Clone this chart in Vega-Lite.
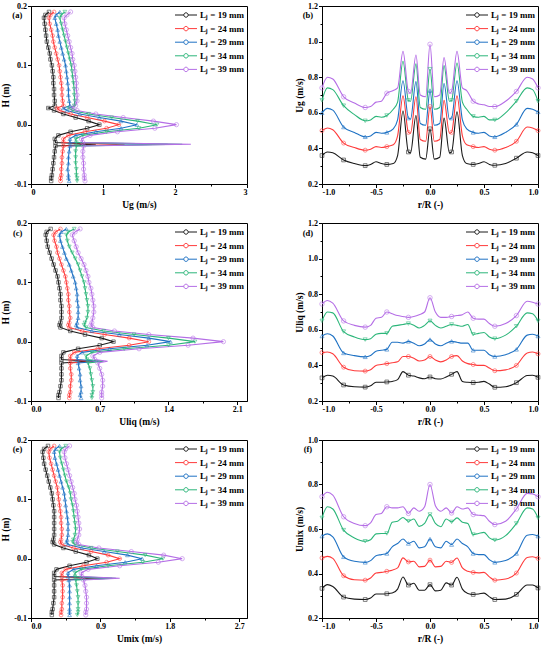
{
"$schema":"https://vega.github.io/schema/vega-lite/v6.json",
"padding":{"left":0,"top":1,"right":4,"bottom":2},
"config":{
 "font":"Liberation Serif",
 "view":{"stroke":"black","strokeWidth":1},
 "axis":{"domainColor":"black","tickColor":"black","labelColor":"black","titleColor":"black","labelFont":"Liberation Serif","titleFont":"Liberation Serif","labelFontWeight":"bold","titleFontWeight":"bold","labelFontSize":8,"titleFontSize":9.5,"grid":false,"tickSize":3.5,"labelPadding":1,"titlePadding":3,"labelOverlap":false,"labelBound":false,"tickCount":40},
 "legend":{"orient":"top-right","offset":3,"padding":0,"rowPadding":2.6,"labelFont":"Liberation Serif","labelFontWeight":"bold","labelFontSize":9,"labelColor":"black","symbolType":"M-2,0H-0.4M0.4,0H2M0.4,0A0.4,0.4 0 1,1 -0.4,0A0.4,0.4 0 1,1 0.4,0","symbolSize":121,"symbolStrokeWidth":1,"labelOffset":8},
 "point":{"filled":false,"strokeWidth":0.8}
},
"datasets":{
"a":[
{"L":"19","h":0.19,"u":0.25},{"L":"19","h":0.185,"u":0.2},{"L":"19","h":0.18,"u":0.18},{"L":"19","h":0.17,"u":0.19},{"L":"19","h":0.16,"u":0.2},{"L":"19","h":0.15,"u":0.21},{"L":"19","h":0.14,"u":0.22},{"L":"19","h":0.13,"u":0.24},{"L":"19","h":0.12,"u":0.26},{"L":"19","h":0.11,"u":0.27},{"L":"19","h":0.1,"u":0.29},{"L":"19","h":0.09,"u":0.3},{"L":"19","h":0.08,"u":0.31},{"L":"19","h":0.07,"u":0.31},{"L":"19","h":0.06,"u":0.32},{"L":"19","h":0.05,"u":0.32},{"L":"19","h":0.04,"u":0.33},{"L":"19","h":0.032,"u":0.33},{"L":"19","h":0.028,"u":0.24},{"L":"19","h":0.024,"u":0.32},{"L":"19","h":0.018,"u":0.45},{"L":"19","h":0.012,"u":0.62},{"L":"19","h":0.006,"u":0.8},{"L":"19","h":0,"u":0.95},{"L":"19","h":-0.006,"u":0.78},{"L":"19","h":-0.012,"u":0.55},{"L":"19","h":-0.018,"u":0.38},{"L":"19","h":-0.024,"u":0.33},{"L":"19","h":-0.03,"u":0.34},{"L":"19","h":-0.033,"u":0.9},{"L":"19","h":-0.036,"u":0.34},{"L":"19","h":-0.045,"u":0.33},{"L":"19","h":-0.055,"u":0.32},{"L":"19","h":-0.065,"u":0.31},{"L":"19","h":-0.075,"u":0.3},{"L":"19","h":-0.085,"u":0.29},{"L":"19","h":-0.09,"u":0.28},{"L":"19","h":-0.095,"u":0.28},
{"L":"24","h":0.19,"u":0.32},{"L":"24","h":0.185,"u":0.27},{"L":"24","h":0.18,"u":0.25},{"L":"24","h":0.17,"u":0.26},{"L":"24","h":0.16,"u":0.28},{"L":"24","h":0.15,"u":0.3},{"L":"24","h":0.14,"u":0.31},{"L":"24","h":0.13,"u":0.33},{"L":"24","h":0.12,"u":0.35},{"L":"24","h":0.11,"u":0.37},{"L":"24","h":0.1,"u":0.39},{"L":"24","h":0.09,"u":0.4},{"L":"24","h":0.08,"u":0.41},{"L":"24","h":0.07,"u":0.42},{"L":"24","h":0.06,"u":0.43},{"L":"24","h":0.05,"u":0.43},{"L":"24","h":0.04,"u":0.44},{"L":"24","h":0.032,"u":0.45},{"L":"24","h":0.028,"u":0.36},{"L":"24","h":0.024,"u":0.4},{"L":"24","h":0.018,"u":0.55},{"L":"24","h":0.012,"u":0.78},{"L":"24","h":0.006,"u":1.02},{"L":"24","h":0,"u":1.22},{"L":"24","h":-0.006,"u":1.05},{"L":"24","h":-0.012,"u":0.75},{"L":"24","h":-0.018,"u":0.52},{"L":"24","h":-0.024,"u":0.45},{"L":"24","h":-0.03,"u":0.45},{"L":"24","h":-0.033,"u":1.3},{"L":"24","h":-0.036,"u":0.45},{"L":"24","h":-0.045,"u":0.44},{"L":"24","h":-0.055,"u":0.43},{"L":"24","h":-0.065,"u":0.43},{"L":"24","h":-0.075,"u":0.42},{"L":"24","h":-0.085,"u":0.42},{"L":"24","h":-0.09,"u":0.41},{"L":"24","h":-0.095,"u":0.41},
{"L":"29","h":0.19,"u":0.4},{"L":"29","h":0.185,"u":0.35},{"L":"29","h":0.18,"u":0.33},{"L":"29","h":0.17,"u":0.35},{"L":"29","h":0.16,"u":0.37},{"L":"29","h":0.15,"u":0.38},{"L":"29","h":0.14,"u":0.4},{"L":"29","h":0.13,"u":0.42},{"L":"29","h":0.12,"u":0.44},{"L":"29","h":0.11,"u":0.46},{"L":"29","h":0.1,"u":0.48},{"L":"29","h":0.09,"u":0.49},{"L":"29","h":0.08,"u":0.5},{"L":"29","h":0.07,"u":0.51},{"L":"29","h":0.06,"u":0.52},{"L":"29","h":0.05,"u":0.52},{"L":"29","h":0.04,"u":0.53},{"L":"29","h":0.032,"u":0.54},{"L":"29","h":0.028,"u":0.45},{"L":"29","h":0.024,"u":0.5},{"L":"29","h":0.018,"u":0.68},{"L":"29","h":0.012,"u":0.95},{"L":"29","h":0.006,"u":1.25},{"L":"29","h":0,"u":1.47},{"L":"29","h":-0.006,"u":1.25},{"L":"29","h":-0.012,"u":0.9},{"L":"29","h":-0.018,"u":0.62},{"L":"29","h":-0.024,"u":0.54},{"L":"29","h":-0.03,"u":0.54},{"L":"29","h":-0.033,"u":1.9},{"L":"29","h":-0.036,"u":0.54},{"L":"29","h":-0.045,"u":0.53},{"L":"29","h":-0.055,"u":0.52},{"L":"29","h":-0.065,"u":0.52},{"L":"29","h":-0.075,"u":0.51},{"L":"29","h":-0.085,"u":0.52},{"L":"29","h":-0.09,"u":0.52},{"L":"29","h":-0.095,"u":0.53},
{"L":"34","h":0.19,"u":0.47},{"L":"34","h":0.185,"u":0.42},{"L":"34","h":0.18,"u":0.4},{"L":"34","h":0.17,"u":0.42},{"L":"34","h":0.16,"u":0.44},{"L":"34","h":0.15,"u":0.46},{"L":"34","h":0.14,"u":0.48},{"L":"34","h":0.13,"u":0.5},{"L":"34","h":0.12,"u":0.52},{"L":"34","h":0.11,"u":0.54},{"L":"34","h":0.1,"u":0.56},{"L":"34","h":0.09,"u":0.57},{"L":"34","h":0.08,"u":0.58},{"L":"34","h":0.07,"u":0.59},{"L":"34","h":0.06,"u":0.6},{"L":"34","h":0.05,"u":0.6},{"L":"34","h":0.04,"u":0.61},{"L":"34","h":0.032,"u":0.6},{"L":"34","h":0.028,"u":0.52},{"L":"34","h":0.024,"u":0.58},{"L":"34","h":0.018,"u":0.8},{"L":"34","h":0.012,"u":1.12},{"L":"34","h":0.006,"u":1.48},{"L":"34","h":0,"u":1.75},{"L":"34","h":-0.006,"u":1.5},{"L":"34","h":-0.012,"u":1.05},{"L":"34","h":-0.018,"u":0.72},{"L":"34","h":-0.024,"u":0.62},{"L":"34","h":-0.03,"u":0.63},{"L":"34","h":-0.033,"u":2.1},{"L":"34","h":-0.036,"u":0.63},{"L":"34","h":-0.045,"u":0.62},{"L":"34","h":-0.055,"u":0.62},{"L":"34","h":-0.065,"u":0.62},{"L":"34","h":-0.075,"u":0.63},{"L":"34","h":-0.085,"u":0.63},{"L":"34","h":-0.09,"u":0.64},{"L":"34","h":-0.095,"u":0.64},
{"L":"39","h":0.19,"u":0.55},{"L":"39","h":0.185,"u":0.5},{"L":"39","h":0.18,"u":0.46},{"L":"39","h":0.17,"u":0.47},{"L":"39","h":0.16,"u":0.49},{"L":"39","h":0.15,"u":0.51},{"L":"39","h":0.14,"u":0.53},{"L":"39","h":0.13,"u":0.55},{"L":"39","h":0.12,"u":0.57},{"L":"39","h":0.11,"u":0.58},{"L":"39","h":0.1,"u":0.6},{"L":"39","h":0.09,"u":0.61},{"L":"39","h":0.08,"u":0.62},{"L":"39","h":0.07,"u":0.63},{"L":"39","h":0.06,"u":0.63},{"L":"39","h":0.05,"u":0.64},{"L":"39","h":0.04,"u":0.64},{"L":"39","h":0.032,"u":0.62},{"L":"39","h":0.028,"u":0.56},{"L":"39","h":0.024,"u":0.64},{"L":"39","h":0.018,"u":0.9},{"L":"39","h":0.012,"u":1.28},{"L":"39","h":0.006,"u":1.7},{"L":"39","h":0,"u":2.02},{"L":"39","h":-0.006,"u":1.72},{"L":"39","h":-0.012,"u":1.2},{"L":"39","h":-0.018,"u":0.82},{"L":"39","h":-0.024,"u":0.7},{"L":"39","h":-0.03,"u":0.72},{"L":"39","h":-0.033,"u":2.22},{"L":"39","h":-0.036,"u":0.73},{"L":"39","h":-0.045,"u":0.72},{"L":"39","h":-0.055,"u":0.72},{"L":"39","h":-0.065,"u":0.73},{"L":"39","h":-0.075,"u":0.73},{"L":"39","h":-0.085,"u":0.74},{"L":"39","h":-0.09,"u":0.74},{"L":"39","h":-0.095,"u":0.75}
],
"c":[
{"L":"19","h":0.19,"u":0.2},{"L":"19","h":0.185,"u":0.16},{"L":"19","h":0.18,"u":0.15},{"L":"19","h":0.17,"u":0.16},{"L":"19","h":0.16,"u":0.17},{"L":"19","h":0.15,"u":0.19},{"L":"19","h":0.14,"u":0.21},{"L":"19","h":0.13,"u":0.23},{"L":"19","h":0.12,"u":0.25},{"L":"19","h":0.11,"u":0.27},{"L":"19","h":0.1,"u":0.28},{"L":"19","h":0.09,"u":0.29},{"L":"19","h":0.08,"u":0.3},{"L":"19","h":0.07,"u":0.3},{"L":"19","h":0.06,"u":0.31},{"L":"19","h":0.05,"u":0.31},{"L":"19","h":0.04,"u":0.31},{"L":"19","h":0.032,"u":0.3},{"L":"19","h":0.028,"u":0.29},{"L":"19","h":0.024,"u":0.3},{"L":"19","h":0.018,"u":0.4},{"L":"19","h":0.012,"u":0.55},{"L":"19","h":0.006,"u":0.72},{"L":"19","h":0,"u":0.84},{"L":"19","h":-0.006,"u":0.7},{"L":"19","h":-0.012,"u":0.48},{"L":"19","h":-0.018,"u":0.33},{"L":"19","h":-0.024,"u":0.31},{"L":"19","h":-0.03,"u":0.31},{"L":"19","h":-0.033,"u":0.6},{"L":"19","h":-0.036,"u":0.31},{"L":"19","h":-0.045,"u":0.31},{"L":"19","h":-0.055,"u":0.31},{"L":"19","h":-0.065,"u":0.31},{"L":"19","h":-0.075,"u":0.3},{"L":"19","h":-0.085,"u":0.29},{"L":"19","h":-0.09,"u":0.28},{"L":"19","h":-0.095,"u":0.28},
{"L":"24","h":0.19,"u":0.3},{"L":"24","h":0.185,"u":0.25},{"L":"24","h":0.18,"u":0.23},{"L":"24","h":0.17,"u":0.24},{"L":"24","h":0.16,"u":0.26},{"L":"24","h":0.15,"u":0.27},{"L":"24","h":0.14,"u":0.29},{"L":"24","h":0.13,"u":0.31},{"L":"24","h":0.12,"u":0.33},{"L":"24","h":0.11,"u":0.35},{"L":"24","h":0.1,"u":0.36},{"L":"24","h":0.09,"u":0.37},{"L":"24","h":0.08,"u":0.38},{"L":"24","h":0.07,"u":0.38},{"L":"24","h":0.06,"u":0.39},{"L":"24","h":0.05,"u":0.39},{"L":"24","h":0.04,"u":0.4},{"L":"24","h":0.032,"u":0.39},{"L":"24","h":0.028,"u":0.38},{"L":"24","h":0.024,"u":0.39},{"L":"24","h":0.018,"u":0.52},{"L":"24","h":0.012,"u":0.75},{"L":"24","h":0.006,"u":1.0},{"L":"24","h":0,"u":1.2},{"L":"24","h":-0.006,"u":1.0},{"L":"24","h":-0.012,"u":0.68},{"L":"24","h":-0.018,"u":0.44},{"L":"24","h":-0.024,"u":0.4},{"L":"24","h":-0.03,"u":0.4},{"L":"24","h":-0.033,"u":0.65},{"L":"24","h":-0.036,"u":0.4},{"L":"24","h":-0.045,"u":0.4},{"L":"24","h":-0.055,"u":0.41},{"L":"24","h":-0.065,"u":0.41},{"L":"24","h":-0.075,"u":0.4},{"L":"24","h":-0.085,"u":0.4},{"L":"24","h":-0.09,"u":0.39},{"L":"24","h":-0.095,"u":0.39},
{"L":"29","h":0.19,"u":0.36},{"L":"29","h":0.185,"u":0.31},{"L":"29","h":0.18,"u":0.29},{"L":"29","h":0.17,"u":0.3},{"L":"29","h":0.16,"u":0.32},{"L":"29","h":0.15,"u":0.34},{"L":"29","h":0.14,"u":0.36},{"L":"29","h":0.13,"u":0.39},{"L":"29","h":0.12,"u":0.41},{"L":"29","h":0.11,"u":0.43},{"L":"29","h":0.1,"u":0.45},{"L":"29","h":0.09,"u":0.46},{"L":"29","h":0.08,"u":0.47},{"L":"29","h":0.07,"u":0.47},{"L":"29","h":0.06,"u":0.48},{"L":"29","h":0.05,"u":0.48},{"L":"29","h":0.04,"u":0.48},{"L":"29","h":0.032,"u":0.47},{"L":"29","h":0.028,"u":0.46},{"L":"29","h":0.024,"u":0.47},{"L":"29","h":0.018,"u":0.62},{"L":"29","h":0.012,"u":0.9},{"L":"29","h":0.006,"u":1.2},{"L":"29","h":0,"u":1.42},{"L":"29","h":-0.006,"u":1.18},{"L":"29","h":-0.012,"u":0.8},{"L":"29","h":-0.018,"u":0.52},{"L":"29","h":-0.024,"u":0.47},{"L":"29","h":-0.03,"u":0.47},{"L":"29","h":-0.033,"u":0.7},{"L":"29","h":-0.036,"u":0.48},{"L":"29","h":-0.045,"u":0.49},{"L":"29","h":-0.055,"u":0.5},{"L":"29","h":-0.065,"u":0.5},{"L":"29","h":-0.075,"u":0.51},{"L":"29","h":-0.085,"u":0.51},{"L":"29","h":-0.09,"u":0.5},{"L":"29","h":-0.095,"u":0.51},
{"L":"34","h":0.19,"u":0.44},{"L":"34","h":0.185,"u":0.38},{"L":"34","h":0.18,"u":0.36},{"L":"34","h":0.17,"u":0.37},{"L":"34","h":0.16,"u":0.39},{"L":"34","h":0.15,"u":0.42},{"L":"34","h":0.14,"u":0.45},{"L":"34","h":0.13,"u":0.48},{"L":"34","h":0.12,"u":0.5},{"L":"34","h":0.11,"u":0.52},{"L":"34","h":0.1,"u":0.54},{"L":"34","h":0.09,"u":0.55},{"L":"34","h":0.08,"u":0.56},{"L":"34","h":0.07,"u":0.57},{"L":"34","h":0.06,"u":0.58},{"L":"34","h":0.05,"u":0.58},{"L":"34","h":0.04,"u":0.57},{"L":"34","h":0.032,"u":0.55},{"L":"34","h":0.028,"u":0.54},{"L":"34","h":0.024,"u":0.56},{"L":"34","h":0.018,"u":0.74},{"L":"34","h":0.012,"u":1.05},{"L":"34","h":0.006,"u":1.4},{"L":"34","h":0,"u":1.67},{"L":"34","h":-0.006,"u":1.4},{"L":"34","h":-0.012,"u":0.95},{"L":"34","h":-0.018,"u":0.62},{"L":"34","h":-0.024,"u":0.56},{"L":"34","h":-0.03,"u":0.57},{"L":"34","h":-0.033,"u":0.74},{"L":"34","h":-0.036,"u":0.58},{"L":"34","h":-0.045,"u":0.6},{"L":"34","h":-0.055,"u":0.61},{"L":"34","h":-0.065,"u":0.62},{"L":"34","h":-0.075,"u":0.63},{"L":"34","h":-0.085,"u":0.63},{"L":"34","h":-0.09,"u":0.62},{"L":"34","h":-0.095,"u":0.62},
{"L":"39","h":0.19,"u":0.5},{"L":"39","h":0.185,"u":0.45},{"L":"39","h":0.18,"u":0.42},{"L":"39","h":0.17,"u":0.44},{"L":"39","h":0.16,"u":0.46},{"L":"39","h":0.15,"u":0.48},{"L":"39","h":0.14,"u":0.51},{"L":"39","h":0.13,"u":0.54},{"L":"39","h":0.12,"u":0.56},{"L":"39","h":0.11,"u":0.58},{"L":"39","h":0.1,"u":0.59},{"L":"39","h":0.09,"u":0.61},{"L":"39","h":0.08,"u":0.62},{"L":"39","h":0.07,"u":0.63},{"L":"39","h":0.06,"u":0.64},{"L":"39","h":0.05,"u":0.64},{"L":"39","h":0.04,"u":0.63},{"L":"39","h":0.032,"u":0.62},{"L":"39","h":0.028,"u":0.61},{"L":"39","h":0.024,"u":0.63},{"L":"39","h":0.018,"u":0.85},{"L":"39","h":0.012,"u":1.2},{"L":"39","h":0.006,"u":1.65},{"L":"39","h":0,"u":1.96},{"L":"39","h":-0.006,"u":1.6},{"L":"39","h":-0.012,"u":1.1},{"L":"39","h":-0.018,"u":0.7},{"L":"39","h":-0.024,"u":0.63},{"L":"39","h":-0.03,"u":0.65},{"L":"39","h":-0.033,"u":0.78},{"L":"39","h":-0.036,"u":0.68},{"L":"39","h":-0.045,"u":0.7},{"L":"39","h":-0.055,"u":0.72},{"L":"39","h":-0.065,"u":0.73},{"L":"39","h":-0.075,"u":0.73},{"L":"39","h":-0.085,"u":0.72},{"L":"39","h":-0.09,"u":0.72},{"L":"39","h":-0.095,"u":0.72}
],
"e":[
{"L":"19","h":0.19,"u":0.22},{"L":"19","h":0.185,"u":0.17},{"L":"19","h":0.18,"u":0.15},{"L":"19","h":0.17,"u":0.16},{"L":"19","h":0.16,"u":0.17},{"L":"19","h":0.15,"u":0.19},{"L":"19","h":0.14,"u":0.21},{"L":"19","h":0.13,"u":0.23},{"L":"19","h":0.12,"u":0.25},{"L":"19","h":0.11,"u":0.27},{"L":"19","h":0.1,"u":0.28},{"L":"19","h":0.09,"u":0.29},{"L":"19","h":0.08,"u":0.3},{"L":"19","h":0.07,"u":0.3},{"L":"19","h":0.06,"u":0.3},{"L":"19","h":0.05,"u":0.3},{"L":"19","h":0.04,"u":0.3},{"L":"19","h":0.032,"u":0.29},{"L":"19","h":0.028,"u":0.28},{"L":"19","h":0.024,"u":0.3},{"L":"19","h":0.018,"u":0.42},{"L":"19","h":0.012,"u":0.58},{"L":"19","h":0.006,"u":0.75},{"L":"19","h":0,"u":0.86},{"L":"19","h":-0.006,"u":0.72},{"L":"19","h":-0.012,"u":0.5},{"L":"19","h":-0.018,"u":0.33},{"L":"19","h":-0.024,"u":0.3},{"L":"19","h":-0.03,"u":0.3},{"L":"19","h":-0.033,"u":0.9},{"L":"19","h":-0.036,"u":0.3},{"L":"19","h":-0.045,"u":0.3},{"L":"19","h":-0.055,"u":0.3},{"L":"19","h":-0.065,"u":0.3},{"L":"19","h":-0.075,"u":0.29},{"L":"19","h":-0.085,"u":0.28},{"L":"19","h":-0.09,"u":0.27},{"L":"19","h":-0.095,"u":0.27},
{"L":"24","h":0.19,"u":0.3},{"L":"24","h":0.185,"u":0.25},{"L":"24","h":0.18,"u":0.23},{"L":"24","h":0.17,"u":0.24},{"L":"24","h":0.16,"u":0.26},{"L":"24","h":0.15,"u":0.28},{"L":"24","h":0.14,"u":0.3},{"L":"24","h":0.13,"u":0.32},{"L":"24","h":0.12,"u":0.34},{"L":"24","h":0.11,"u":0.35},{"L":"24","h":0.1,"u":0.36},{"L":"24","h":0.09,"u":0.37},{"L":"24","h":0.08,"u":0.38},{"L":"24","h":0.07,"u":0.39},{"L":"24","h":0.06,"u":0.39},{"L":"24","h":0.05,"u":0.4},{"L":"24","h":0.04,"u":0.4},{"L":"24","h":0.032,"u":0.39},{"L":"24","h":0.028,"u":0.38},{"L":"24","h":0.024,"u":0.4},{"L":"24","h":0.018,"u":0.55},{"L":"24","h":0.012,"u":0.78},{"L":"24","h":0.006,"u":1.0},{"L":"24","h":0,"u":1.15},{"L":"24","h":-0.006,"u":0.98},{"L":"24","h":-0.012,"u":0.68},{"L":"24","h":-0.018,"u":0.45},{"L":"24","h":-0.024,"u":0.4},{"L":"24","h":-0.03,"u":0.4},{"L":"24","h":-0.033,"u":1.0},{"L":"24","h":-0.036,"u":0.4},{"L":"24","h":-0.045,"u":0.41},{"L":"24","h":-0.055,"u":0.41},{"L":"24","h":-0.065,"u":0.41},{"L":"24","h":-0.075,"u":0.4},{"L":"24","h":-0.085,"u":0.4},{"L":"24","h":-0.09,"u":0.39},{"L":"24","h":-0.095,"u":0.39},
{"L":"29","h":0.19,"u":0.37},{"L":"29","h":0.185,"u":0.32},{"L":"29","h":0.18,"u":0.3},{"L":"29","h":0.17,"u":0.31},{"L":"29","h":0.16,"u":0.33},{"L":"29","h":0.15,"u":0.35},{"L":"29","h":0.14,"u":0.37},{"L":"29","h":0.13,"u":0.39},{"L":"29","h":0.12,"u":0.41},{"L":"29","h":0.11,"u":0.43},{"L":"29","h":0.1,"u":0.44},{"L":"29","h":0.09,"u":0.45},{"L":"29","h":0.08,"u":0.46},{"L":"29","h":0.07,"u":0.47},{"L":"29","h":0.06,"u":0.48},{"L":"29","h":0.05,"u":0.48},{"L":"29","h":0.04,"u":0.48},{"L":"29","h":0.032,"u":0.47},{"L":"29","h":0.028,"u":0.46},{"L":"29","h":0.024,"u":0.48},{"L":"29","h":0.018,"u":0.66},{"L":"29","h":0.012,"u":0.95},{"L":"29","h":0.006,"u":1.25},{"L":"29","h":0,"u":1.44},{"L":"29","h":-0.006,"u":1.22},{"L":"29","h":-0.012,"u":0.85},{"L":"29","h":-0.018,"u":0.55},{"L":"29","h":-0.024,"u":0.48},{"L":"29","h":-0.03,"u":0.48},{"L":"29","h":-0.033,"u":1.05},{"L":"29","h":-0.036,"u":0.49},{"L":"29","h":-0.045,"u":0.5},{"L":"29","h":-0.055,"u":0.5},{"L":"29","h":-0.065,"u":0.5},{"L":"29","h":-0.075,"u":0.5},{"L":"29","h":-0.085,"u":0.5},{"L":"29","h":-0.09,"u":0.5},{"L":"29","h":-0.095,"u":0.5},
{"L":"34","h":0.19,"u":0.45},{"L":"34","h":0.185,"u":0.39},{"L":"34","h":0.18,"u":0.37},{"L":"34","h":0.17,"u":0.38},{"L":"34","h":0.16,"u":0.4},{"L":"34","h":0.15,"u":0.42},{"L":"34","h":0.14,"u":0.44},{"L":"34","h":0.13,"u":0.46},{"L":"34","h":0.12,"u":0.49},{"L":"34","h":0.11,"u":0.51},{"L":"34","h":0.1,"u":0.52},{"L":"34","h":0.09,"u":0.54},{"L":"34","h":0.08,"u":0.55},{"L":"34","h":0.07,"u":0.56},{"L":"34","h":0.06,"u":0.57},{"L":"34","h":0.05,"u":0.58},{"L":"34","h":0.04,"u":0.57},{"L":"34","h":0.032,"u":0.55},{"L":"34","h":0.028,"u":0.54},{"L":"34","h":0.024,"u":0.57},{"L":"34","h":0.018,"u":0.78},{"L":"34","h":0.012,"u":1.12},{"L":"34","h":0.006,"u":1.48},{"L":"34","h":0,"u":1.71},{"L":"34","h":-0.006,"u":1.45},{"L":"34","h":-0.012,"u":1.0},{"L":"34","h":-0.018,"u":0.65},{"L":"34","h":-0.024,"u":0.57},{"L":"34","h":-0.03,"u":0.57},{"L":"34","h":-0.033,"u":1.1},{"L":"34","h":-0.036,"u":0.58},{"L":"34","h":-0.045,"u":0.59},{"L":"34","h":-0.055,"u":0.6},{"L":"34","h":-0.065,"u":0.61},{"L":"34","h":-0.075,"u":0.61},{"L":"34","h":-0.085,"u":0.61},{"L":"34","h":-0.09,"u":0.61},{"L":"34","h":-0.095,"u":0.6},
{"L":"39","h":0.19,"u":0.5},{"L":"39","h":0.185,"u":0.45},{"L":"39","h":0.18,"u":0.43},{"L":"39","h":0.17,"u":0.44},{"L":"39","h":0.16,"u":0.46},{"L":"39","h":0.15,"u":0.48},{"L":"39","h":0.14,"u":0.5},{"L":"39","h":0.13,"u":0.52},{"L":"39","h":0.12,"u":0.54},{"L":"39","h":0.11,"u":0.56},{"L":"39","h":0.1,"u":0.57},{"L":"39","h":0.09,"u":0.59},{"L":"39","h":0.08,"u":0.6},{"L":"39","h":0.07,"u":0.61},{"L":"39","h":0.06,"u":0.62},{"L":"39","h":0.05,"u":0.63},{"L":"39","h":0.04,"u":0.62},{"L":"39","h":0.032,"u":0.6},{"L":"39","h":0.028,"u":0.59},{"L":"39","h":0.024,"u":0.62},{"L":"39","h":0.018,"u":0.88},{"L":"39","h":0.012,"u":1.3},{"L":"39","h":0.006,"u":1.72},{"L":"39","h":0,"u":1.96},{"L":"39","h":-0.006,"u":1.65},{"L":"39","h":-0.012,"u":1.15},{"L":"39","h":-0.018,"u":0.74},{"L":"39","h":-0.024,"u":0.65},{"L":"39","h":-0.03,"u":0.66},{"L":"39","h":-0.033,"u":1.15},{"L":"39","h":-0.036,"u":0.68},{"L":"39","h":-0.045,"u":0.7},{"L":"39","h":-0.055,"u":0.71},{"L":"39","h":-0.065,"u":0.72},{"L":"39","h":-0.075,"u":0.72},{"L":"39","h":-0.085,"u":0.72},{"L":"39","h":-0.09,"u":0.71},{"L":"39","h":-0.095,"u":0.71}
],
"b":[
{"L":"19","r":-1,"u":0.36},{"L":"19","r":-0.95,"u":0.38},{"L":"19","r":-0.9,"u":0.375},{"L":"19","r":-0.8,"u":0.335},{"L":"19","r":-0.7,"u":0.315},{"L":"19","r":-0.6,"u":0.303},{"L":"19","r":-0.55,"u":0.31},{"L":"19","r":-0.5,"u":0.325},{"L":"19","r":-0.45,"u":0.315},{"L":"19","r":-0.4,"u":0.31},{"L":"19","r":-0.34,"u":0.315},{"L":"19","r":-0.3,"u":0.36},{"L":"19","r":-0.25,"u":0.61},{"L":"19","r":-0.2,"u":0.38},{"L":"19","r":-0.18,"u":0.375},{"L":"19","r":-0.13,"u":0.585},{"L":"19","r":-0.09,"u":0.35},{"L":"19","r":-0.04,"u":0.34},{"L":"19","r":0,"u":0.51},{"L":"19","r":0.04,"u":0.34},{"L":"19","r":0.09,"u":0.35},{"L":"19","r":0.13,"u":0.57},{"L":"19","r":0.18,"u":0.375},{"L":"19","r":0.2,"u":0.38},{"L":"19","r":0.25,"u":0.605},{"L":"19","r":0.3,"u":0.36},{"L":"19","r":0.34,"u":0.315},{"L":"19","r":0.4,"u":0.31},{"L":"19","r":0.45,"u":0.315},{"L":"19","r":0.5,"u":0.325},{"L":"19","r":0.55,"u":0.31},{"L":"19","r":0.6,"u":0.305},{"L":"19","r":0.7,"u":0.315},{"L":"19","r":0.8,"u":0.345},{"L":"19","r":0.9,"u":0.38},{"L":"19","r":0.95,"u":0.375},{"L":"19","r":1,"u":0.36},
{"L":"24","r":-1,"u":0.5},{"L":"24","r":-0.95,"u":0.515},{"L":"24","r":-0.9,"u":0.505},{"L":"24","r":-0.8,"u":0.43},{"L":"24","r":-0.7,"u":0.405},{"L":"24","r":-0.6,"u":0.39},{"L":"24","r":-0.55,"u":0.395},{"L":"24","r":-0.5,"u":0.41},{"L":"24","r":-0.45,"u":0.405},{"L":"24","r":-0.4,"u":0.41},{"L":"24","r":-0.34,"u":0.42},{"L":"24","r":-0.3,"u":0.47},{"L":"24","r":-0.25,"u":0.695},{"L":"24","r":-0.2,"u":0.49},{"L":"24","r":-0.18,"u":0.485},{"L":"24","r":-0.13,"u":0.69},{"L":"24","r":-0.09,"u":0.45},{"L":"24","r":-0.04,"u":0.44},{"L":"24","r":0,"u":0.635},{"L":"24","r":0.04,"u":0.44},{"L":"24","r":0.09,"u":0.45},{"L":"24","r":0.13,"u":0.67},{"L":"24","r":0.18,"u":0.485},{"L":"24","r":0.2,"u":0.49},{"L":"24","r":0.25,"u":0.695},{"L":"24","r":0.3,"u":0.47},{"L":"24","r":0.34,"u":0.42},{"L":"24","r":0.4,"u":0.41},{"L":"24","r":0.45,"u":0.405},{"L":"24","r":0.5,"u":0.41},{"L":"24","r":0.55,"u":0.395},{"L":"24","r":0.6,"u":0.39},{"L":"24","r":0.7,"u":0.405},{"L":"24","r":0.8,"u":0.44},{"L":"24","r":0.9,"u":0.52},{"L":"24","r":0.95,"u":0.515},{"L":"24","r":1,"u":0.5},
{"L":"29","r":-1,"u":0.6},{"L":"29","r":-0.95,"u":0.625},{"L":"29","r":-0.9,"u":0.615},{"L":"29","r":-0.8,"u":0.52},{"L":"29","r":-0.7,"u":0.49},{"L":"29","r":-0.6,"u":0.465},{"L":"29","r":-0.55,"u":0.47},{"L":"29","r":-0.5,"u":0.49},{"L":"29","r":-0.45,"u":0.485},{"L":"29","r":-0.4,"u":0.49},{"L":"29","r":-0.34,"u":0.51},{"L":"29","r":-0.3,"u":0.56},{"L":"29","r":-0.25,"u":0.78},{"L":"29","r":-0.2,"u":0.57},{"L":"29","r":-0.18,"u":0.565},{"L":"29","r":-0.13,"u":0.775},{"L":"29","r":-0.09,"u":0.54},{"L":"29","r":-0.04,"u":0.53},{"L":"29","r":0,"u":0.725},{"L":"29","r":0.04,"u":0.53},{"L":"29","r":0.09,"u":0.54},{"L":"29","r":0.13,"u":0.765},{"L":"29","r":0.18,"u":0.565},{"L":"29","r":0.2,"u":0.57},{"L":"29","r":0.25,"u":0.78},{"L":"29","r":0.3,"u":0.56},{"L":"29","r":0.34,"u":0.51},{"L":"29","r":0.4,"u":0.49},{"L":"29","r":0.45,"u":0.485},{"L":"29","r":0.5,"u":0.49},{"L":"29","r":0.55,"u":0.47},{"L":"29","r":0.6,"u":0.465},{"L":"29","r":0.7,"u":0.49},{"L":"29","r":0.8,"u":0.535},{"L":"29","r":0.9,"u":0.625},{"L":"29","r":0.95,"u":0.62},{"L":"29","r":1,"u":0.605},
{"L":"34","r":-1,"u":0.67},{"L":"34","r":-0.95,"u":0.74},{"L":"34","r":-0.9,"u":0.73},{"L":"34","r":-0.8,"u":0.64},{"L":"34","r":-0.7,"u":0.59},{"L":"34","r":-0.6,"u":0.555},{"L":"34","r":-0.55,"u":0.56},{"L":"34","r":-0.5,"u":0.58},{"L":"34","r":-0.45,"u":0.575},{"L":"34","r":-0.4,"u":0.585},{"L":"34","r":-0.34,"u":0.62},{"L":"34","r":-0.3,"u":0.66},{"L":"34","r":-0.25,"u":0.89},{"L":"34","r":-0.2,"u":0.67},{"L":"34","r":-0.18,"u":0.665},{"L":"34","r":-0.13,"u":0.875},{"L":"34","r":-0.09,"u":0.63},{"L":"34","r":-0.04,"u":0.62},{"L":"34","r":0,"u":0.845},{"L":"34","r":0.04,"u":0.62},{"L":"34","r":0.09,"u":0.63},{"L":"34","r":0.13,"u":0.865},{"L":"34","r":0.18,"u":0.665},{"L":"34","r":0.2,"u":0.67},{"L":"34","r":0.25,"u":0.88},{"L":"34","r":0.3,"u":0.66},{"L":"34","r":0.34,"u":0.62},{"L":"34","r":0.4,"u":0.58},{"L":"34","r":0.45,"u":0.575},{"L":"34","r":0.5,"u":0.58},{"L":"34","r":0.55,"u":0.56},{"L":"34","r":0.6,"u":0.56},{"L":"34","r":0.7,"u":0.6},{"L":"34","r":0.8,"u":0.665},{"L":"34","r":0.9,"u":0.74},{"L":"34","r":0.95,"u":0.73},{"L":"34","r":1,"u":0.665},
{"L":"39","r":-1,"u":0.74},{"L":"39","r":-0.95,"u":0.8},{"L":"39","r":-0.9,"u":0.79},{"L":"39","r":-0.8,"u":0.69},{"L":"39","r":-0.7,"u":0.655},{"L":"39","r":-0.6,"u":0.63},{"L":"39","r":-0.55,"u":0.635},{"L":"39","r":-0.5,"u":0.66},{"L":"39","r":-0.45,"u":0.665},{"L":"39","r":-0.4,"u":0.71},{"L":"39","r":-0.34,"u":0.725},{"L":"39","r":-0.3,"u":0.74},{"L":"39","r":-0.25,"u":0.945},{"L":"39","r":-0.2,"u":0.72},{"L":"39","r":-0.18,"u":0.71},{"L":"39","r":-0.13,"u":0.925},{"L":"39","r":-0.09,"u":0.7},{"L":"39","r":-0.04,"u":0.69},{"L":"39","r":0,"u":0.985},{"L":"39","r":0.04,"u":0.69},{"L":"39","r":0.09,"u":0.7},{"L":"39","r":0.13,"u":0.91},{"L":"39","r":0.18,"u":0.71},{"L":"39","r":0.2,"u":0.72},{"L":"39","r":0.25,"u":0.945},{"L":"39","r":0.3,"u":0.74},{"L":"39","r":0.34,"u":0.725},{"L":"39","r":0.4,"u":0.665},{"L":"39","r":0.45,"u":0.65},{"L":"39","r":0.5,"u":0.645},{"L":"39","r":0.55,"u":0.635},{"L":"39","r":0.6,"u":0.635},{"L":"39","r":0.7,"u":0.665},{"L":"39","r":0.8,"u":0.72},{"L":"39","r":0.9,"u":0.8},{"L":"39","r":0.95,"u":0.79},{"L":"39","r":1,"u":0.74}
],
"d":[
{"L":"19","r":-1,"u":0.33},{"L":"19","r":-0.95,"u":0.345},{"L":"19","r":-0.9,"u":0.34},{"L":"19","r":-0.8,"u":0.29},{"L":"19","r":-0.7,"u":0.28},{"L":"19","r":-0.6,"u":0.278},{"L":"19","r":-0.55,"u":0.285},{"L":"19","r":-0.5,"u":0.305},{"L":"19","r":-0.45,"u":0.305},{"L":"19","r":-0.4,"u":0.307},{"L":"19","r":-0.35,"u":0.31},{"L":"19","r":-0.3,"u":0.32},{"L":"19","r":-0.25,"u":0.365},{"L":"19","r":-0.2,"u":0.345},{"L":"19","r":-0.15,"u":0.34},{"L":"19","r":-0.1,"u":0.33},{"L":"19","r":-0.05,"u":0.325},{"L":"19","r":0,"u":0.335},{"L":"19","r":0.05,"u":0.325},{"L":"19","r":0.1,"u":0.324},{"L":"19","r":0.15,"u":0.335},{"L":"19","r":0.2,"u":0.35},{"L":"19","r":0.25,"u":0.365},{"L":"19","r":0.3,"u":0.31},{"L":"19","r":0.35,"u":0.305},{"L":"19","r":0.4,"u":0.303},{"L":"19","r":0.45,"u":0.305},{"L":"19","r":0.5,"u":0.31},{"L":"19","r":0.55,"u":0.295},{"L":"19","r":0.6,"u":0.277},{"L":"19","r":0.7,"u":0.28},{"L":"19","r":0.8,"u":0.303},{"L":"19","r":0.9,"u":0.343},{"L":"19","r":0.95,"u":0.345},{"L":"19","r":1,"u":0.333},
{"L":"24","r":-1,"u":0.472},{"L":"24","r":-0.95,"u":0.475},{"L":"24","r":-0.9,"u":0.465},{"L":"24","r":-0.8,"u":0.39},{"L":"24","r":-0.7,"u":0.37},{"L":"24","r":-0.6,"u":0.368},{"L":"24","r":-0.55,"u":0.375},{"L":"24","r":-0.5,"u":0.4},{"L":"24","r":-0.45,"u":0.405},{"L":"24","r":-0.4,"u":0.41},{"L":"24","r":-0.35,"u":0.415},{"L":"24","r":-0.3,"u":0.42},{"L":"24","r":-0.25,"u":0.45},{"L":"24","r":-0.2,"u":0.45},{"L":"24","r":-0.15,"u":0.44},{"L":"24","r":-0.1,"u":0.425},{"L":"24","r":-0.05,"u":0.43},{"L":"24","r":0,"u":0.45},{"L":"24","r":0.05,"u":0.43},{"L":"24","r":0.1,"u":0.42},{"L":"24","r":0.15,"u":0.43},{"L":"24","r":0.2,"u":0.45},{"L":"24","r":0.25,"u":0.455},{"L":"24","r":0.3,"u":0.425},{"L":"24","r":0.35,"u":0.41},{"L":"24","r":0.4,"u":0.405},{"L":"24","r":0.45,"u":0.4},{"L":"24","r":0.5,"u":0.4},{"L":"24","r":0.55,"u":0.385},{"L":"24","r":0.6,"u":0.37},{"L":"24","r":0.7,"u":0.375},{"L":"24","r":0.8,"u":0.4},{"L":"24","r":0.9,"u":0.47},{"L":"24","r":0.95,"u":0.475},{"L":"24","r":1,"u":0.465},
{"L":"29","r":-1,"u":0.565},{"L":"29","r":-0.95,"u":0.578},{"L":"29","r":-0.9,"u":0.565},{"L":"29","r":-0.8,"u":0.47},{"L":"29","r":-0.7,"u":0.455},{"L":"29","r":-0.6,"u":0.448},{"L":"29","r":-0.55,"u":0.455},{"L":"29","r":-0.5,"u":0.48},{"L":"29","r":-0.45,"u":0.485},{"L":"29","r":-0.4,"u":0.49},{"L":"29","r":-0.35,"u":0.53},{"L":"29","r":-0.3,"u":0.53},{"L":"29","r":-0.25,"u":0.525},{"L":"29","r":-0.2,"u":0.535},{"L":"29","r":-0.15,"u":0.525},{"L":"29","r":-0.1,"u":0.51},{"L":"29","r":-0.05,"u":0.52},{"L":"29","r":0,"u":0.545},{"L":"29","r":0.05,"u":0.52},{"L":"29","r":0.1,"u":0.51},{"L":"29","r":0.15,"u":0.525},{"L":"29","r":0.2,"u":0.535},{"L":"29","r":0.25,"u":0.53},{"L":"29","r":0.3,"u":0.525},{"L":"29","r":0.35,"u":0.525},{"L":"29","r":0.4,"u":0.485},{"L":"29","r":0.45,"u":0.485},{"L":"29","r":0.5,"u":0.485},{"L":"29","r":0.55,"u":0.46},{"L":"29","r":0.6,"u":0.45},{"L":"29","r":0.7,"u":0.46},{"L":"29","r":0.8,"u":0.49},{"L":"29","r":0.9,"u":0.57},{"L":"29","r":0.95,"u":0.575},{"L":"29","r":1,"u":0.565},
{"L":"34","r":-1,"u":0.65},{"L":"34","r":-0.95,"u":0.7},{"L":"34","r":-0.9,"u":0.695},{"L":"34","r":-0.8,"u":0.59},{"L":"34","r":-0.7,"u":0.56},{"L":"34","r":-0.6,"u":0.545},{"L":"34","r":-0.55,"u":0.55},{"L":"34","r":-0.5,"u":0.575},{"L":"34","r":-0.45,"u":0.58},{"L":"34","r":-0.4,"u":0.58},{"L":"34","r":-0.35,"u":0.62},{"L":"34","r":-0.3,"u":0.625},{"L":"34","r":-0.25,"u":0.63},{"L":"34","r":-0.2,"u":0.635},{"L":"34","r":-0.15,"u":0.625},{"L":"34","r":-0.1,"u":0.61},{"L":"34","r":-0.05,"u":0.625},{"L":"34","r":0,"u":0.65},{"L":"34","r":0.05,"u":0.625},{"L":"34","r":0.1,"u":0.61},{"L":"34","r":0.15,"u":0.62},{"L":"34","r":0.2,"u":0.63},{"L":"34","r":0.25,"u":0.625},{"L":"34","r":0.3,"u":0.62},{"L":"34","r":0.35,"u":0.63},{"L":"34","r":0.4,"u":0.575},{"L":"34","r":0.45,"u":0.58},{"L":"34","r":0.5,"u":0.585},{"L":"34","r":0.55,"u":0.56},{"L":"34","r":0.6,"u":0.55},{"L":"34","r":0.7,"u":0.57},{"L":"34","r":0.8,"u":0.62},{"L":"34","r":0.9,"u":0.695},{"L":"34","r":0.95,"u":0.69},{"L":"34","r":1,"u":0.65},
{"L":"39","r":-1,"u":0.745},{"L":"39","r":-0.95,"u":0.765},{"L":"39","r":-0.9,"u":0.75},{"L":"39","r":-0.8,"u":0.65},{"L":"39","r":-0.7,"u":0.625},{"L":"39","r":-0.6,"u":0.615},{"L":"39","r":-0.55,"u":0.625},{"L":"39","r":-0.5,"u":0.665},{"L":"39","r":-0.45,"u":0.67},{"L":"39","r":-0.4,"u":0.7},{"L":"39","r":-0.35,"u":0.69},{"L":"39","r":-0.3,"u":0.68},{"L":"39","r":-0.25,"u":0.675},{"L":"39","r":-0.2,"u":0.67},{"L":"39","r":-0.15,"u":0.675},{"L":"39","r":-0.1,"u":0.685},{"L":"39","r":-0.05,"u":0.7},{"L":"39","r":0,"u":0.78},{"L":"39","r":0.05,"u":0.7},{"L":"39","r":0.1,"u":0.67},{"L":"39","r":0.15,"u":0.67},{"L":"39","r":0.2,"u":0.675},{"L":"39","r":0.25,"u":0.68},{"L":"39","r":0.3,"u":0.685},{"L":"39","r":0.35,"u":0.7},{"L":"39","r":0.4,"u":0.665},{"L":"39","r":0.45,"u":0.66},{"L":"39","r":0.5,"u":0.66},{"L":"39","r":0.55,"u":0.635},{"L":"39","r":0.6,"u":0.62},{"L":"39","r":0.7,"u":0.635},{"L":"39","r":0.8,"u":0.68},{"L":"39","r":0.9,"u":0.76},{"L":"39","r":0.95,"u":0.755},{"L":"39","r":1,"u":0.745}
],
"f":[
{"L":"19","r":-1,"u":0.333},{"L":"19","r":-0.95,"u":0.35},{"L":"19","r":-0.9,"u":0.342},{"L":"19","r":-0.8,"u":0.294},{"L":"19","r":-0.7,"u":0.285},{"L":"19","r":-0.6,"u":0.283},{"L":"19","r":-0.55,"u":0.29},{"L":"19","r":-0.5,"u":0.308},{"L":"19","r":-0.45,"u":0.308},{"L":"19","r":-0.4,"u":0.309},{"L":"19","r":-0.35,"u":0.312},{"L":"19","r":-0.3,"u":0.33},{"L":"19","r":-0.25,"u":0.384},{"L":"19","r":-0.2,"u":0.348},{"L":"19","r":-0.15,"u":0.356},{"L":"19","r":-0.1,"u":0.325},{"L":"19","r":-0.05,"u":0.325},{"L":"19","r":0,"u":0.35},{"L":"19","r":0.05,"u":0.322},{"L":"19","r":0.1,"u":0.325},{"L":"19","r":0.15,"u":0.358},{"L":"19","r":0.2,"u":0.348},{"L":"19","r":0.25,"u":0.383},{"L":"19","r":0.3,"u":0.33},{"L":"19","r":0.35,"u":0.31},{"L":"19","r":0.4,"u":0.306},{"L":"19","r":0.45,"u":0.308},{"L":"19","r":0.5,"u":0.312},{"L":"19","r":0.55,"u":0.295},{"L":"19","r":0.6,"u":0.283},{"L":"19","r":0.7,"u":0.285},{"L":"19","r":0.8,"u":0.306},{"L":"19","r":0.9,"u":0.348},{"L":"19","r":0.95,"u":0.348},{"L":"19","r":1,"u":0.335},
{"L":"24","r":-1,"u":0.47},{"L":"24","r":-0.95,"u":0.477},{"L":"24","r":-0.9,"u":0.468},{"L":"24","r":-0.8,"u":0.39},{"L":"24","r":-0.7,"u":0.372},{"L":"24","r":-0.6,"u":0.37},{"L":"24","r":-0.55,"u":0.38},{"L":"24","r":-0.5,"u":0.402},{"L":"24","r":-0.45,"u":0.405},{"L":"24","r":-0.4,"u":0.41},{"L":"24","r":-0.35,"u":0.415},{"L":"24","r":-0.3,"u":0.425},{"L":"24","r":-0.25,"u":0.47},{"L":"24","r":-0.2,"u":0.452},{"L":"24","r":-0.15,"u":0.455},{"L":"24","r":-0.1,"u":0.43},{"L":"24","r":-0.05,"u":0.432},{"L":"24","r":0,"u":0.46},{"L":"24","r":0.05,"u":0.43},{"L":"24","r":0.1,"u":0.432},{"L":"24","r":0.15,"u":0.455},{"L":"24","r":0.2,"u":0.45},{"L":"24","r":0.25,"u":0.47},{"L":"24","r":0.3,"u":0.425},{"L":"24","r":0.35,"u":0.41},{"L":"24","r":0.4,"u":0.405},{"L":"24","r":0.45,"u":0.403},{"L":"24","r":0.5,"u":0.405},{"L":"24","r":0.55,"u":0.385},{"L":"24","r":0.6,"u":0.37},{"L":"24","r":0.7,"u":0.375},{"L":"24","r":0.8,"u":0.402},{"L":"24","r":0.9,"u":0.472},{"L":"24","r":0.95,"u":0.475},{"L":"24","r":1,"u":0.468},
{"L":"29","r":-1,"u":0.568},{"L":"29","r":-0.95,"u":0.578},{"L":"29","r":-0.9,"u":0.565},{"L":"29","r":-0.8,"u":0.475},{"L":"29","r":-0.7,"u":0.455},{"L":"29","r":-0.6,"u":0.45},{"L":"29","r":-0.55,"u":0.458},{"L":"29","r":-0.5,"u":0.48},{"L":"29","r":-0.45,"u":0.485},{"L":"29","r":-0.4,"u":0.49},{"L":"29","r":-0.35,"u":0.52},{"L":"29","r":-0.3,"u":0.535},{"L":"29","r":-0.25,"u":0.555},{"L":"29","r":-0.2,"u":0.535},{"L":"29","r":-0.15,"u":0.545},{"L":"29","r":-0.1,"u":0.515},{"L":"29","r":-0.05,"u":0.52},{"L":"29","r":0,"u":0.555},{"L":"29","r":0.05,"u":0.52},{"L":"29","r":0.1,"u":0.515},{"L":"29","r":0.15,"u":0.545},{"L":"29","r":0.2,"u":0.53},{"L":"29","r":0.25,"u":0.555},{"L":"29","r":0.3,"u":0.535},{"L":"29","r":0.35,"u":0.52},{"L":"29","r":0.4,"u":0.49},{"L":"29","r":0.45,"u":0.485},{"L":"29","r":0.5,"u":0.485},{"L":"29","r":0.55,"u":0.462},{"L":"29","r":0.6,"u":0.45},{"L":"29","r":0.7,"u":0.458},{"L":"29","r":0.8,"u":0.49},{"L":"29","r":0.9,"u":0.572},{"L":"29","r":0.95,"u":0.575},{"L":"29","r":1,"u":0.568},
{"L":"34","r":-1,"u":0.65},{"L":"34","r":-0.95,"u":0.7},{"L":"34","r":-0.9,"u":0.69},{"L":"34","r":-0.8,"u":0.595},{"L":"34","r":-0.7,"u":0.56},{"L":"34","r":-0.6,"u":0.545},{"L":"34","r":-0.55,"u":0.552},{"L":"34","r":-0.5,"u":0.578},{"L":"34","r":-0.45,"u":0.58},{"L":"34","r":-0.4,"u":0.58},{"L":"34","r":-0.35,"u":0.63},{"L":"34","r":-0.3,"u":0.635},{"L":"34","r":-0.25,"u":0.652},{"L":"34","r":-0.2,"u":0.635},{"L":"34","r":-0.15,"u":0.645},{"L":"34","r":-0.1,"u":0.612},{"L":"34","r":-0.05,"u":0.625},{"L":"34","r":0,"u":0.665},{"L":"34","r":0.05,"u":0.625},{"L":"34","r":0.1,"u":0.61},{"L":"34","r":0.15,"u":0.645},{"L":"34","r":0.2,"u":0.632},{"L":"34","r":0.25,"u":0.65},{"L":"34","r":0.3,"u":0.63},{"L":"34","r":0.35,"u":0.625},{"L":"34","r":0.4,"u":0.575},{"L":"34","r":0.45,"u":0.58},{"L":"34","r":0.5,"u":0.585},{"L":"34","r":0.55,"u":0.56},{"L":"34","r":0.6,"u":0.55},{"L":"34","r":0.7,"u":0.57},{"L":"34","r":0.8,"u":0.625},{"L":"34","r":0.9,"u":0.695},{"L":"34","r":0.95,"u":0.69},{"L":"34","r":1,"u":0.65},
{"L":"39","r":-1,"u":0.745},{"L":"39","r":-0.95,"u":0.765},{"L":"39","r":-0.9,"u":0.752},{"L":"39","r":-0.8,"u":0.655},{"L":"39","r":-0.7,"u":0.625},{"L":"39","r":-0.6,"u":0.615},{"L":"39","r":-0.55,"u":0.628},{"L":"39","r":-0.5,"u":0.665},{"L":"39","r":-0.45,"u":0.67},{"L":"39","r":-0.4,"u":0.7},{"L":"39","r":-0.35,"u":0.695},{"L":"39","r":-0.3,"u":0.695},{"L":"39","r":-0.25,"u":0.7},{"L":"39","r":-0.2,"u":0.67},{"L":"39","r":-0.15,"u":0.695},{"L":"39","r":-0.1,"u":0.68},{"L":"39","r":-0.05,"u":0.7},{"L":"39","r":0,"u":0.8},{"L":"39","r":0.05,"u":0.705},{"L":"39","r":0.1,"u":0.68},{"L":"39","r":0.15,"u":0.695},{"L":"39","r":0.2,"u":0.672},{"L":"39","r":0.25,"u":0.7},{"L":"39","r":0.3,"u":0.69},{"L":"39","r":0.35,"u":0.695},{"L":"39","r":0.4,"u":0.665},{"L":"39","r":0.45,"u":0.662},{"L":"39","r":0.5,"u":0.66},{"L":"39","r":0.55,"u":0.635},{"L":"39","r":0.6,"u":0.62},{"L":"39","r":0.7,"u":0.635},{"L":"39","r":0.8,"u":0.69},{"L":"39","r":0.9,"u":0.76},{"L":"39","r":0.95,"u":0.758},{"L":"39","r":1,"u":0.745}
]
},
"spacing":8,
"resolve":{"scale":{"color":"independent"}},
"vconcat":[
{"spacing":46,"resolve":{"scale":{"color":"independent"}},"hconcat":[
 {"width":216,"height":178,"layer":[
  {"data":{"name":"a"},"mark":{"type":"line","strokeWidth":1.1},"encoding":{
   "x":{"field":"u","type":"quantitative","scale":{"domain":[0,3]},"axis":{"values":[0,0.5,1,1.5,2,2.5,3],"tickCount":40,"labelExpr":"indexof([0,1,2,3],datum.value)>=0?format(datum.value,'d'):''","tickSize":{"condition":{"test":"indexof([0,1,2,3],datum.value)<0","value":2},"value":3.5},"title":"Ug (m/s)"}},
   "y":{"field":"h","type":"quantitative","scale":{"domain":[-0.1,0.2]},"axis":{"values":[-0.1,-0.05,0,0.05,0.1,0.15,0.2],"tickCount":40,"labelExpr":"indexof([-0.1,0,0.1,0.2],datum.value)>=0?replace(format(datum.value,'.1f'),'−','-'):''","tickSize":{"condition":{"test":"indexof([-0.1,0,0.1,0.2],datum.value)<0","value":2},"value":3.5},"title":"H (m)"}},
   "color":{"field":"L","type":"nominal","scale":{"domain":["19","24","29","34","39"],"range":["#1a1a1a","#ff3b3b","#1f72c4","#2cb67a","#b56ee6"]},"legend":{"title":null,"labelExpr":"'Lⱼ = '+datum.label+' mm'","symbolType":"M-2,0H-0.4M0.4,0H2M0.4,0A0.4,0.4 0 1,1 -0.4,0A0.4,0.4 0 1,1 0.4,0"}},
   "order":{"field":"h","type":"quantitative"}}},
  {"data":{"name":"a"},"transform":[{"filter":"datum.L=='19' && datum.h != -0.033"}],"mark":{"type":"point","shape":"square","size":12},"encoding":{"x":{"field":"u","type":"quantitative"},"y":{"field":"h","type":"quantitative"},"color":{"field":"L","type":"nominal","legend":null}}},
  {"data":{"name":"a"},"transform":[{"filter":"datum.L=='24' && datum.h != -0.033"}],"mark":{"type":"point","shape":"circle","size":14},"encoding":{"x":{"field":"u","type":"quantitative"},"y":{"field":"h","type":"quantitative"},"color":{"field":"L","type":"nominal","legend":null}}},
  {"data":{"name":"a"},"transform":[{"filter":"datum.L=='29' && datum.h != -0.033"}],"mark":{"type":"point","shape":"triangle-up","size":14},"encoding":{"x":{"field":"u","type":"quantitative"},"y":{"field":"h","type":"quantitative"},"color":{"field":"L","type":"nominal","legend":null}}},
  {"data":{"name":"a"},"transform":[{"filter":"datum.L=='34' && datum.h != -0.033"}],"mark":{"type":"point","shape":"triangle-down","size":14},"encoding":{"x":{"field":"u","type":"quantitative"},"y":{"field":"h","type":"quantitative"},"color":{"field":"L","type":"nominal","legend":null}}},
  {"data":{"name":"a"},"transform":[{"filter":"datum.L=='39' && datum.h != -0.033"}],"mark":{"type":"point","shape":"circle","size":18},"encoding":{"x":{"field":"u","type":"quantitative"},"y":{"field":"h","type":"quantitative"},"color":{"field":"L","type":"nominal","legend":null}}},
  {"data":{"values":[{"t":"(a)"}]},"mark":{"type":"text","align":"center","baseline":"middle","fontWeight":"bold","fontSize":8.5,"font":"Liberation Serif","color":"black"},"encoding":{"x":{"datum":-0.19},"y":{"datum":0.185},"text":{"field":"t"}}}
 ]},
 {"width":216,"height":178,"layer":[
  {"data":{"name":"b"},"mark":{"type":"line","strokeWidth":1.1,"interpolate":"monotone"},"encoding":{
   "x":{"field":"r","type":"quantitative","scale":{"domain":[-1,1]},"axis":{"values":[-1,-0.75,-0.5,-0.25,0,0.25,0.5,0.75,1],"tickCount":40,"labelExpr":"indexof([-1,-0.5,0,0.5,1],datum.value)>=0?replace(format(datum.value,'.1f'),'−','-'):''","tickSize":{"condition":{"test":"indexof([-1,-0.5,0,0.5,1],datum.value)<0","value":2},"value":3.5},"title":"r/R (-)"}},
   "y":{"field":"u","type":"quantitative","scale":{"domain":[0.2,1.2]},"axis":{"values":[0.2,0.3,0.4,0.5,0.6,0.7,0.8,0.9,1,1.1,1.2],"tickCount":40,"labelExpr":"indexof([0.2,0.4,0.6,0.8,1,1.2],datum.value)>=0?format(datum.value,'.1f'):''","tickSize":{"condition":{"test":"indexof([0.2,0.4,0.6,0.8,1,1.2],datum.value)<0","value":2},"value":3.5},"title":"Ug (m/s)"}},
   "color":{"field":"L","type":"nominal","scale":{"domain":["19","24","29","34","39"],"range":["#1a1a1a","#ff3b3b","#1f72c4","#2cb67a","#b56ee6"]},"legend":{"title":null,"labelExpr":"'Lⱼ = '+datum.label+' mm'","symbolType":"M-2,0H-0.4M0.4,0H2M0.4,0A0.4,0.4 0 1,1 -0.4,0A0.4,0.4 0 1,1 0.4,0"}}}},
  {"data":{"name":"b"},"transform":[{"filter":{"field":"L","equal":"19"}},{"filter":{"field":"r","oneOf":[-1,-0.8,-0.6,-0.4,-0.2,0,0.2,0.4,0.6,0.8,1]}}],"mark":{"type":"point","shape":"square","size":14},"encoding":{"x":{"field":"r","type":"quantitative"},"y":{"field":"u","type":"quantitative"},"color":{"field":"L","type":"nominal","legend":null}}},
  {"data":{"name":"b"},"transform":[{"filter":{"field":"L","equal":"24"}},{"filter":{"field":"r","oneOf":[-1,-0.8,-0.6,-0.4,-0.2,0,0.2,0.4,0.6,0.8,1]}}],"mark":{"type":"point","shape":"circle","size":16},"encoding":{"x":{"field":"r","type":"quantitative"},"y":{"field":"u","type":"quantitative"},"color":{"field":"L","type":"nominal","legend":null}}},
  {"data":{"name":"b"},"transform":[{"filter":{"field":"L","equal":"29"}},{"filter":{"field":"r","oneOf":[-1,-0.8,-0.6,-0.4,-0.2,0,0.2,0.4,0.6,0.8,1]}}],"mark":{"type":"point","shape":"triangle-up","size":16},"encoding":{"x":{"field":"r","type":"quantitative"},"y":{"field":"u","type":"quantitative"},"color":{"field":"L","type":"nominal","legend":null}}},
  {"data":{"name":"b"},"transform":[{"filter":{"field":"L","equal":"34"}},{"filter":{"field":"r","oneOf":[-1,-0.8,-0.6,-0.4,-0.2,0,0.2,0.4,0.6,0.8,1]}}],"mark":{"type":"point","shape":"triangle-down","size":16},"encoding":{"x":{"field":"r","type":"quantitative"},"y":{"field":"u","type":"quantitative"},"color":{"field":"L","type":"nominal","legend":null}}},
  {"data":{"name":"b"},"transform":[{"filter":{"field":"L","equal":"39"}},{"filter":{"field":"r","oneOf":[-1,-0.8,-0.6,-0.4,-0.2,0,0.2,0.4,0.6,0.8,1]}}],"mark":{"type":"point","shape":"circle","size":20},"encoding":{"x":{"field":"r","type":"quantitative"},"y":{"field":"u","type":"quantitative"},"color":{"field":"L","type":"nominal","legend":null}}},
  {"data":{"values":[{"t":"(b)"}]},"mark":{"type":"text","align":"center","baseline":"middle","fontWeight":"bold","fontSize":8.5,"font":"Liberation Serif","color":"black"},"encoding":{"x":{"datum":-1.13},"y":{"datum":1.15},"text":{"field":"t"}}}
 ]}
]},
{"spacing":46,"resolve":{"scale":{"color":"independent"}},"hconcat":[
 {"width":216,"height":178,"layer":[
  {"data":{"name":"c"},"mark":{"type":"line","strokeWidth":1.1},"encoding":{
   "x":{"field":"u","type":"quantitative","scale":{"domain":[0,2.1]},"axis":{"values":[0,0.35,0.7,1.05,1.4,1.75,2.1],"tickCount":40,"labelExpr":"indexof([0,0.7,1.4,2.1],datum.value)>=0?format(datum.value,'.1f'):''","tickSize":{"condition":{"test":"indexof([0,0.7,1.4,2.1],datum.value)<0","value":2},"value":3.5},"title":"Uliq (m/s)"}},
   "y":{"field":"h","type":"quantitative","scale":{"domain":[-0.1,0.2]},"axis":{"values":[-0.1,-0.05,0,0.05,0.1,0.15,0.2],"tickCount":40,"labelExpr":"indexof([-0.1,0,0.1,0.2],datum.value)>=0?replace(format(datum.value,'.1f'),'−','-'):''","tickSize":{"condition":{"test":"indexof([-0.1,0,0.1,0.2],datum.value)<0","value":2},"value":3.5},"title":"H (m)"}},
   "color":{"field":"L","type":"nominal","scale":{"domain":["19","24","29","34","39"],"range":["#1a1a1a","#ff3b3b","#1f72c4","#2cb67a","#b56ee6"]},"legend":{"title":null,"labelExpr":"'Lⱼ = '+datum.label+' mm'","symbolType":"M-2,0H-0.4M0.4,0H2M0.4,0A0.4,0.4 0 1,1 -0.4,0A0.4,0.4 0 1,1 0.4,0"}},
   "order":{"field":"h","type":"quantitative"}}},
  {"data":{"name":"c"},"transform":[{"filter":"datum.L=='19' && datum.h != -0.033"}],"mark":{"type":"point","shape":"square","size":12},"encoding":{"x":{"field":"u","type":"quantitative"},"y":{"field":"h","type":"quantitative"},"color":{"field":"L","type":"nominal","legend":null}}},
  {"data":{"name":"c"},"transform":[{"filter":"datum.L=='24' && datum.h != -0.033"}],"mark":{"type":"point","shape":"circle","size":14},"encoding":{"x":{"field":"u","type":"quantitative"},"y":{"field":"h","type":"quantitative"},"color":{"field":"L","type":"nominal","legend":null}}},
  {"data":{"name":"c"},"transform":[{"filter":"datum.L=='29' && datum.h != -0.033"}],"mark":{"type":"point","shape":"triangle-up","size":14},"encoding":{"x":{"field":"u","type":"quantitative"},"y":{"field":"h","type":"quantitative"},"color":{"field":"L","type":"nominal","legend":null}}},
  {"data":{"name":"c"},"transform":[{"filter":"datum.L=='34' && datum.h != -0.033"}],"mark":{"type":"point","shape":"triangle-down","size":14},"encoding":{"x":{"field":"u","type":"quantitative"},"y":{"field":"h","type":"quantitative"},"color":{"field":"L","type":"nominal","legend":null}}},
  {"data":{"name":"c"},"transform":[{"filter":"datum.L=='39' && datum.h != -0.033"}],"mark":{"type":"point","shape":"circle","size":18},"encoding":{"x":{"field":"u","type":"quantitative"},"y":{"field":"h","type":"quantitative"},"color":{"field":"L","type":"nominal","legend":null}}},
  {"data":{"values":[{"t":"(c)"}]},"mark":{"type":"text","align":"center","baseline":"middle","fontWeight":"bold","fontSize":8.5,"font":"Liberation Serif","color":"black"},"encoding":{"x":{"datum":-0.136},"y":{"datum":0.183},"text":{"field":"t"}}}
 ]},
 {"width":216,"height":178,"layer":[
  {"data":{"name":"d"},"mark":{"type":"line","strokeWidth":1.1,"interpolate":"monotone"},"encoding":{
   "x":{"field":"r","type":"quantitative","scale":{"domain":[-1,1]},"axis":{"values":[-1,-0.75,-0.5,-0.25,0,0.25,0.5,0.75,1],"tickCount":40,"labelExpr":"indexof([-1,-0.5,0,0.5,1],datum.value)>=0?replace(format(datum.value,'.1f'),'−','-'):''","tickSize":{"condition":{"test":"indexof([-1,-0.5,0,0.5,1],datum.value)<0","value":2},"value":3.5},"title":"r/R (-)"}},
   "y":{"field":"u","type":"quantitative","scale":{"domain":[0.2,1.2]},"axis":{"values":[0.2,0.3,0.4,0.5,0.6,0.7,0.8,0.9,1,1.1,1.2],"tickCount":40,"labelExpr":"indexof([0.2,0.4,0.6,0.8,1,1.2],datum.value)>=0?format(datum.value,'.1f'):''","tickSize":{"condition":{"test":"indexof([0.2,0.4,0.6,0.8,1,1.2],datum.value)<0","value":2},"value":3.5},"title":"Uliq (m/s)"}},
   "color":{"field":"L","type":"nominal","scale":{"domain":["19","24","29","34","39"],"range":["#1a1a1a","#ff3b3b","#1f72c4","#2cb67a","#b56ee6"]},"legend":{"title":null,"labelExpr":"'Lⱼ = '+datum.label+' mm'","symbolType":"M-2,0H-0.4M0.4,0H2M0.4,0A0.4,0.4 0 1,1 -0.4,0A0.4,0.4 0 1,1 0.4,0"}}}},
  {"data":{"name":"d"},"transform":[{"filter":{"field":"L","equal":"19"}},{"filter":{"field":"r","oneOf":[-1,-0.8,-0.6,-0.4,-0.2,0,0.2,0.4,0.6,0.8,1]}}],"mark":{"type":"point","shape":"square","size":14},"encoding":{"x":{"field":"r","type":"quantitative"},"y":{"field":"u","type":"quantitative"},"color":{"field":"L","type":"nominal","legend":null}}},
  {"data":{"name":"d"},"transform":[{"filter":{"field":"L","equal":"24"}},{"filter":{"field":"r","oneOf":[-1,-0.8,-0.6,-0.4,-0.2,0,0.2,0.4,0.6,0.8,1]}}],"mark":{"type":"point","shape":"circle","size":16},"encoding":{"x":{"field":"r","type":"quantitative"},"y":{"field":"u","type":"quantitative"},"color":{"field":"L","type":"nominal","legend":null}}},
  {"data":{"name":"d"},"transform":[{"filter":{"field":"L","equal":"29"}},{"filter":{"field":"r","oneOf":[-1,-0.8,-0.6,-0.4,-0.2,0,0.2,0.4,0.6,0.8,1]}}],"mark":{"type":"point","shape":"triangle-up","size":16},"encoding":{"x":{"field":"r","type":"quantitative"},"y":{"field":"u","type":"quantitative"},"color":{"field":"L","type":"nominal","legend":null}}},
  {"data":{"name":"d"},"transform":[{"filter":{"field":"L","equal":"34"}},{"filter":{"field":"r","oneOf":[-1,-0.8,-0.6,-0.4,-0.2,0,0.2,0.4,0.6,0.8,1]}}],"mark":{"type":"point","shape":"triangle-down","size":16},"encoding":{"x":{"field":"r","type":"quantitative"},"y":{"field":"u","type":"quantitative"},"color":{"field":"L","type":"nominal","legend":null}}},
  {"data":{"name":"d"},"transform":[{"filter":{"field":"L","equal":"39"}},{"filter":{"field":"r","oneOf":[-1,-0.8,-0.6,-0.4,-0.2,0,0.2,0.4,0.6,0.8,1]}}],"mark":{"type":"point","shape":"circle","size":20},"encoding":{"x":{"field":"r","type":"quantitative"},"y":{"field":"u","type":"quantitative"},"color":{"field":"L","type":"nominal","legend":null}}},
  {"data":{"values":[{"t":"(d)"}]},"mark":{"type":"text","align":"center","baseline":"middle","fontWeight":"bold","fontSize":8.5,"font":"Liberation Serif","color":"black"},"encoding":{"x":{"datum":-1.13},"y":{"datum":1.144},"text":{"field":"t"}}}
 ]}
]},
{"spacing":46,"resolve":{"scale":{"color":"independent"}},"hconcat":[
 {"width":216,"height":178,"layer":[
  {"data":{"name":"e"},"mark":{"type":"line","strokeWidth":1.1},"encoding":{
   "x":{"field":"u","type":"quantitative","scale":{"domain":[0,2.7]},"axis":{"values":[0,0.45,0.9,1.35,1.8,2.25,2.7],"tickCount":40,"labelExpr":"indexof([0,0.9,1.8,2.7],datum.value)>=0?format(datum.value,'.1f'):''","tickSize":{"condition":{"test":"indexof([0,0.9,1.8,2.7],datum.value)<0","value":2},"value":3.5},"title":"Umix (m/s)"}},
   "y":{"field":"h","type":"quantitative","scale":{"domain":[-0.1,0.2]},"axis":{"values":[-0.1,-0.05,0,0.05,0.1,0.15,0.2],"tickCount":40,"labelExpr":"indexof([-0.1,0,0.1,0.2],datum.value)>=0?replace(format(datum.value,'.1f'),'−','-'):''","tickSize":{"condition":{"test":"indexof([-0.1,0,0.1,0.2],datum.value)<0","value":2},"value":3.5},"title":"H (m)"}},
   "color":{"field":"L","type":"nominal","scale":{"domain":["19","24","29","34","39"],"range":["#1a1a1a","#ff3b3b","#1f72c4","#2cb67a","#b56ee6"]},"legend":{"title":null,"labelExpr":"'Lⱼ = '+datum.label+' mm'","symbolType":"M-2,0H-0.4M0.4,0H2M0.4,0A0.4,0.4 0 1,1 -0.4,0A0.4,0.4 0 1,1 0.4,0"}},
   "order":{"field":"h","type":"quantitative"}}},
  {"data":{"name":"e"},"transform":[{"filter":"datum.L=='19' && datum.h != -0.033"}],"mark":{"type":"point","shape":"square","size":12},"encoding":{"x":{"field":"u","type":"quantitative"},"y":{"field":"h","type":"quantitative"},"color":{"field":"L","type":"nominal","legend":null}}},
  {"data":{"name":"e"},"transform":[{"filter":"datum.L=='24' && datum.h != -0.033"}],"mark":{"type":"point","shape":"circle","size":14},"encoding":{"x":{"field":"u","type":"quantitative"},"y":{"field":"h","type":"quantitative"},"color":{"field":"L","type":"nominal","legend":null}}},
  {"data":{"name":"e"},"transform":[{"filter":"datum.L=='29' && datum.h != -0.033"}],"mark":{"type":"point","shape":"triangle-up","size":14},"encoding":{"x":{"field":"u","type":"quantitative"},"y":{"field":"h","type":"quantitative"},"color":{"field":"L","type":"nominal","legend":null}}},
  {"data":{"name":"e"},"transform":[{"filter":"datum.L=='34' && datum.h != -0.033"}],"mark":{"type":"point","shape":"triangle-down","size":14},"encoding":{"x":{"field":"u","type":"quantitative"},"y":{"field":"h","type":"quantitative"},"color":{"field":"L","type":"nominal","legend":null}}},
  {"data":{"name":"e"},"transform":[{"filter":"datum.L=='39' && datum.h != -0.033"}],"mark":{"type":"point","shape":"circle","size":18},"encoding":{"x":{"field":"u","type":"quantitative"},"y":{"field":"h","type":"quantitative"},"color":{"field":"L","type":"nominal","legend":null}}},
  {"data":{"values":[{"t":"(e)"}]},"mark":{"type":"text","align":"center","baseline":"middle","fontWeight":"bold","fontSize":8.5,"font":"Liberation Serif","color":"black"},"encoding":{"x":{"datum":-0.175},"y":{"datum":0.185},"text":{"field":"t"}}}
 ]},
 {"width":216,"height":178,"layer":[
  {"data":{"name":"f"},"mark":{"type":"line","strokeWidth":1.1,"interpolate":"monotone"},"encoding":{
   "x":{"field":"r","type":"quantitative","scale":{"domain":[-1,1]},"axis":{"values":[-1,-0.75,-0.5,-0.25,0,0.25,0.5,0.75,1],"tickCount":40,"labelExpr":"indexof([-1,-0.5,0,0.5,1],datum.value)>=0?replace(format(datum.value,'.1f'),'−','-'):''","tickSize":{"condition":{"test":"indexof([-1,-0.5,0,0.5,1],datum.value)<0","value":2},"value":3.5},"title":"r/R (-)"}},
   "y":{"field":"u","type":"quantitative","scale":{"domain":[0.2,1.0]},"axis":{"values":[0.2,0.3,0.4,0.5,0.6,0.7,0.8,0.9,1],"tickCount":40,"labelExpr":"indexof([0.2,0.4,0.6,0.8,1],datum.value)>=0?format(datum.value,'.1f'):''","tickSize":{"condition":{"test":"indexof([0.2,0.4,0.6,0.8,1],datum.value)<0","value":2},"value":3.5},"title":"Umix (m/s)"}},
   "color":{"field":"L","type":"nominal","scale":{"domain":["19","24","29","34","39"],"range":["#1a1a1a","#ff3b3b","#1f72c4","#2cb67a","#b56ee6"]},"legend":{"title":null,"labelExpr":"'Lⱼ = '+datum.label+' mm'","symbolType":"M-2,0H-0.4M0.4,0H2M0.4,0A0.4,0.4 0 1,1 -0.4,0A0.4,0.4 0 1,1 0.4,0"}}}},
  {"data":{"name":"f"},"transform":[{"filter":{"field":"L","equal":"19"}},{"filter":{"field":"r","oneOf":[-1,-0.8,-0.6,-0.4,-0.2,0,0.2,0.4,0.6,0.8,1]}}],"mark":{"type":"point","shape":"square","size":14},"encoding":{"x":{"field":"r","type":"quantitative"},"y":{"field":"u","type":"quantitative"},"color":{"field":"L","type":"nominal","legend":null}}},
  {"data":{"name":"f"},"transform":[{"filter":{"field":"L","equal":"24"}},{"filter":{"field":"r","oneOf":[-1,-0.8,-0.6,-0.4,-0.2,0,0.2,0.4,0.6,0.8,1]}}],"mark":{"type":"point","shape":"circle","size":16},"encoding":{"x":{"field":"r","type":"quantitative"},"y":{"field":"u","type":"quantitative"},"color":{"field":"L","type":"nominal","legend":null}}},
  {"data":{"name":"f"},"transform":[{"filter":{"field":"L","equal":"29"}},{"filter":{"field":"r","oneOf":[-1,-0.8,-0.6,-0.4,-0.2,0,0.2,0.4,0.6,0.8,1]}}],"mark":{"type":"point","shape":"triangle-up","size":16},"encoding":{"x":{"field":"r","type":"quantitative"},"y":{"field":"u","type":"quantitative"},"color":{"field":"L","type":"nominal","legend":null}}},
  {"data":{"name":"f"},"transform":[{"filter":{"field":"L","equal":"34"}},{"filter":{"field":"r","oneOf":[-1,-0.8,-0.6,-0.4,-0.2,0,0.2,0.4,0.6,0.8,1]}}],"mark":{"type":"point","shape":"triangle-down","size":16},"encoding":{"x":{"field":"r","type":"quantitative"},"y":{"field":"u","type":"quantitative"},"color":{"field":"L","type":"nominal","legend":null}}},
  {"data":{"name":"f"},"transform":[{"filter":{"field":"L","equal":"39"}},{"filter":{"field":"r","oneOf":[-1,-0.8,-0.6,-0.4,-0.2,0,0.2,0.4,0.6,0.8,1]}}],"mark":{"type":"point","shape":"circle","size":20},"encoding":{"x":{"field":"r","type":"quantitative"},"y":{"field":"u","type":"quantitative"},"color":{"field":"L","type":"nominal","legend":null}}},
  {"data":{"values":[{"t":"(f)"}]},"mark":{"type":"text","align":"center","baseline":"middle","fontWeight":"bold","fontSize":8.5,"font":"Liberation Serif","color":"black"},"encoding":{"x":{"datum":-1.13},"y":{"datum":0.96},"text":{"field":"t"}}}
 ]}
]}
]
}
